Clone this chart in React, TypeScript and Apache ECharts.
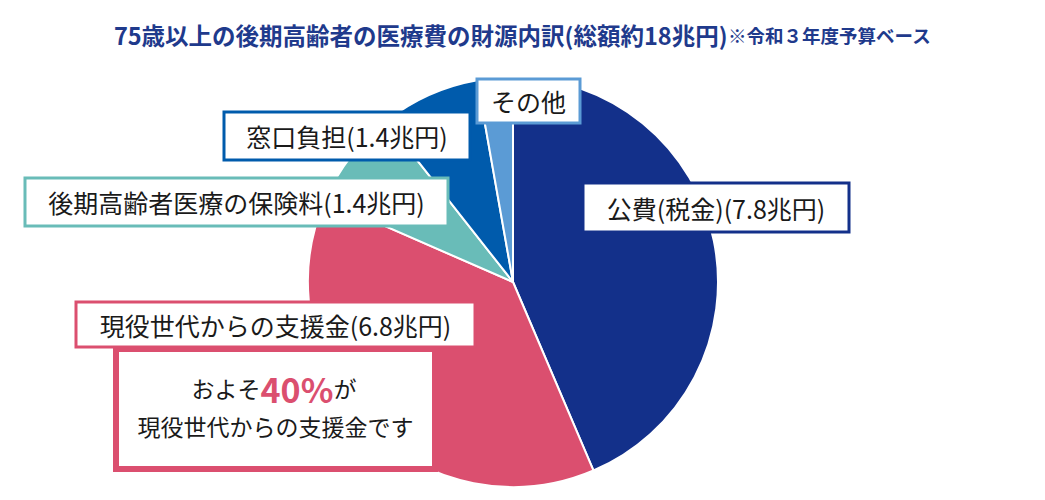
import React, { useEffect, useRef } from "react";
import * as echarts from "echarts";

const categories = ["公費(税金)", "現役世代からの支援金", "後期高齢者医療の保険料", "窓口負担", "その他"];
const values = [7.8, 6.8, 1.4, 1.4, 0.5];
const showValue = [true, true, true, true, false];
const colors = ["#13308A", "#DB4F6F", "#69BCB8", "#005BAC", "#5B9BD5"];
// label box centres and inner sizes
const labelBoxes = [
  { x: 716, y: 207.5, w: 263, h: 46 },
  { x: 275.5, y: 324.5, w: 396, h: 42 },
  { x: 236.5, y: 202, w: 420, h: 45 },
  { x: 347, y: 136, w: 243, h: 45 },
  { x: 528.5, y: 101, w: 100, h: 41 },
];
const titleMain = "75歳以上の後期高齢者の医療費の財源内訳(総額約18兆円)";
const titleNote = "※令和３年度予算ベース";
const calloutLine1 = ["およそ", "40%", "が"];
const calloutLine2 = "現役世代からの支援金です";

const FONT = "'Noto Sans CJK JP', 'Noto Sans', sans-serif";

export default function App() {
  const ref = useRef<HTMLDivElement>(null);
  useEffect(() => {
    if (!ref.current) return;
    const chart = echarts.init(ref.current, null, { renderer: "svg" });
    const data = categories.map((name, i) => ({
      name,
      value: values[i],
      itemStyle: { color: colors[i] },
      label: {
        width: labelBoxes[i].w,
        height: labelBoxes[i].h,
        borderColor: colors[i],
      },
    }));
    chart.setOption({
      animation: false,
      title: {
        left: "center",
        top: 23,
        padding: 0,
        text: `{a|${titleMain}}{b|${titleNote}}`,
        textStyle: {
          rich: {
            a: { fontFamily: FONT, fontSize: 23.5, fontWeight: "bold", color: "#1F3A8C" },
            b: { fontFamily: FONT, fontSize: 18.5, fontWeight: "bold", color: "#1F3A8C" },
          },
        },
      },
      series: [
        {
          type: "pie",
          center: [513, 282],
          radius: 205,
          startAngle: 90,
          clockwise: true,
          itemStyle: { borderColor: "#fff", borderWidth: 2 },
          label: {
            show: true,
            position: "outside",
            formatter: (p: any) => (showValue[p.dataIndex] ? `${p.name}(${p.value}兆円)` : p.name),
            fontFamily: FONT,
            fontSize: 25,
            color: "#1a1a1a",
            backgroundColor: "#fff",
            borderWidth: 3,
            padding: 0,
            align: "center",
            verticalAlign: "middle",
            lineHeight: 30,
          },
          labelLine: { show: false },
          labelLayout: (p: any) => ({
            x: labelBoxes[p.dataIndex].x,
            y: labelBoxes[p.dataIndex].y,
            align: "center",
            verticalAlign: "middle",
          }),
          data,
        },
      ],
      graphic: [
        {
          type: "rect",
          z: 100,
          shape: { x: 116, y: 349, width: 319, height: 120 },
          style: { fill: "#fff", stroke: "#DB4F6F", lineWidth: 6 },
        },
        {
          type: "text",
          z: 101,
          x: 274,
          y: 388,
          style: {
            text: `{n|${calloutLine1[0]}}{p|${calloutLine1[1]}}{n|${calloutLine1[2]}}`,
            align: "center",
            verticalAlign: "middle",
            rich: {
              n: { fontFamily: FONT, fontSize: 23, fill: "#1a1a1a", lineHeight: 30 },
              p: { fontFamily: FONT, fontSize: 34, fontWeight: "bold", fill: "#DB4F6F", lineHeight: 30 },
            },
          },
        },
        {
          type: "text",
          z: 101,
          x: 275.5,
          y: 426,
          style: {
            text: calloutLine2,
            fontFamily: FONT,
            fontSize: 23,
            fill: "#1a1a1a",
            align: "center",
            verticalAlign: "middle",
          },
        },
      ],
    });
    return () => chart.dispose();
  }, []);
  return <div ref={ref} style={{ position: "absolute", left: 0, top: 0, width: 1045, height: 500 }} />;
}
